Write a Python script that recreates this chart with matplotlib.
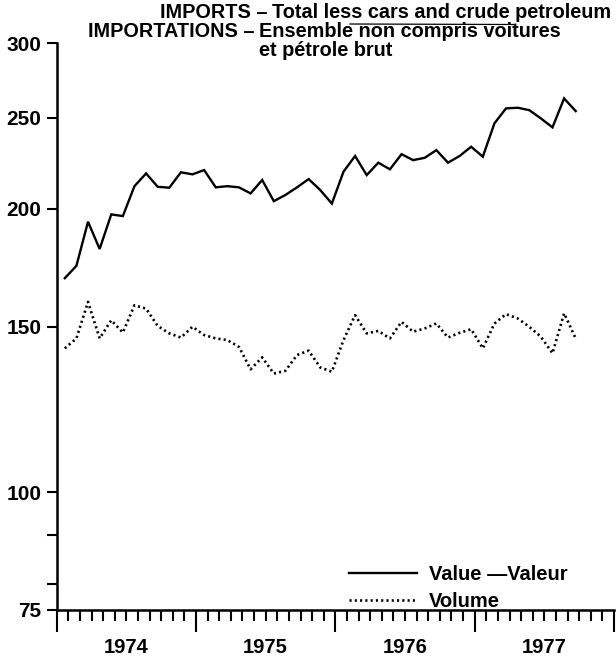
import numpy as np
import matplotlib
matplotlib.use("Agg")
import matplotlib.pyplot as plt
from matplotlib.ticker import FixedLocator, NullFormatter, FixedFormatter
from matplotlib.lines import Line2D

plt.rcParams['font.family'] = ['Liberation Sans', 'DejaVu Sans']
plt.rcParams['font.weight'] = 'bold'

# Monthly series, Jan 1974 .. Sep 1977 (index 0 = Jan 1974)
value = [168.8, 174.0, 193.8, 181.3, 197.3, 196.5, 211.4, 218.1, 211.1, 210.6, 218.7, 217.6,
         219.9, 210.8, 211.4, 210.8, 207.7, 214.6, 203.8, 206.9, 210.8, 215.1, 209.4, 202.6,
         219.0, 227.6, 217.2, 223.9, 220.3, 228.6, 225.3, 226.6, 230.9, 223.9, 227.6, 232.8,
         227.2, 246.5, 255.7, 256.1, 254.6, 249.5, 244.1, 262.0, 254.0]
volume = [142.2, 145.7, 159.3, 145.7, 152.3, 147.8, 158.0, 156.7, 150.2, 147.5, 146.0, 149.9,
          146.9, 145.7, 145.1, 142.7, 135.1, 139.1, 133.7, 134.6, 139.9, 141.4, 135.7, 134.3,
          145.1, 154.2, 147.5, 148.4, 145.7, 151.7, 148.1, 149.3, 151.1, 146.0, 147.7, 149.0,
          142.2, 151.1, 154.6, 153.0, 149.9, 146.3, 140.5, 154.9, 145.7]
years = ['1974', '1975', '1976', '1977']
y_ticks = [75, 100, 150, 200, 250, 300]
y_minor = [80, 90]

months = np.arange(len(value)) + 0.7

fig = plt.figure(figsize=(6.16, 6.59), dpi=100)
ax = fig.add_axes([0.092, 0.0744, 0.9968 - 0.092, 0.9347 - 0.0744])

ax.plot(months, value, color='black', lw=1.7, solid_joinstyle='miter', label='Value \u2014Valeur')
ax.plot(months, volume, color='black', lw=1.9, linestyle=(0, (0.8, 1.2)), label='Volume')

ax.set_yscale('log')
ax.set_ylim(75, 300)
ax.set_xlim(0, 48)

ax.yaxis.set_major_locator(FixedLocator(y_ticks))
ax.yaxis.set_major_formatter(FixedFormatter([str(t) for t in y_ticks]))
ax.yaxis.set_minor_locator(FixedLocator(y_minor))
ax.yaxis.set_minor_formatter(NullFormatter())
ax.tick_params(axis='y', which='both', direction='out', length=7, width=1.5, pad=4,
               labelsize=15)

ax.xaxis.set_major_locator(FixedLocator([0, 12, 24, 36, 48]))
ax.xaxis.set_major_formatter(NullFormatter())
ax.xaxis.set_minor_locator(FixedLocator([m for m in range(1, 48) if m % 12 != 0]))
ax.tick_params(axis='x', which='major', direction='out', length=16, width=1.5)
ax.tick_params(axis='x', which='minor', direction='out', length=8, width=1.5)

for i, yr in enumerate(years):
    ax.text(12 * i + 6, -0.067, yr, transform=ax.get_xaxis_transform(), ha='center',
            va='center', fontsize=14.5, fontweight='bold')

for s in ['top', 'right']:
    ax.spines[s].set_visible(False)
for s in ['left', 'bottom']:
    ax.spines[s].set_linewidth(1.8)

leg = ax.legend(loc='lower left', bbox_to_anchor=(0.5245, -0.002), frameon=False,
                fontsize=14.5, handlelength=3.4, handletextpad=0.55, labelspacing=0.4,
                borderpad=0, borderaxespad=0)

W, H = 616, 659
def ft(x, y, s, ha):
    fig.text(x / W, 1 - y / H, s, ha=ha, va='baseline', fontsize=14.3, fontweight='bold')

ft(268, 18, 'IMPORTS \u2013', 'right')
ft(272, 18, 'Total less cars and crude petroleum', 'left')
ft(255, 37, 'IMPORTATIONS \u2013', 'right')
ft(259, 37, 'Ensemble non compris voitures', 'left')
ft(259, 56, 'et p\u00e9trole brut', 'left')
fig.add_artist(Line2D([350 / W, 514 / W], [1 - 24 / H, 1 - 24.5 / H], color='black', lw=0.9))

fig.savefig('out.png', dpi=100)
